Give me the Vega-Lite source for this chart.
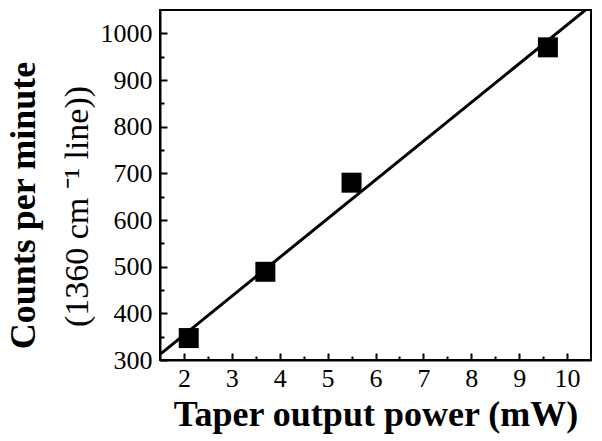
{
  "$schema": "https://vega.github.io/schema/vega-lite/v6.json",
  "autosize": "none",
  "padding": {"left": 160, "top": 10, "right": 11, "bottom": 81},
  "width": 431,
  "height": 350,
  "background": "white",
  "config": {
    "view": {"stroke": "black", "strokeWidth": 2},
    "axis": {
      "font": "Liberation Serif",
      "labelFont": "Liberation Serif",
      "titleFont": "Liberation Serif",
      "labelColor": "black",
      "titleColor": "black",
      "domainColor": "black",
      "domainWidth": 2,
      "tickColor": "black",
      "tickWidth": 2,
      "grid": false
    }
  },
  "datasets": {
    "points": [
      {"power": 2.1, "counts": 347},
      {"power": 3.7, "counts": 489},
      {"power": 5.5, "counts": 680},
      {"power": 9.6, "counts": 970}
    ],
    "fit": [
      {"power": 1.4, "counts": 303.8},
      {"power": 10.5, "counts": 1059.6}
    ]
  },
  "layer": [
    {
      "data": {"name": "fit"},
      "mark": {"type": "line", "color": "black", "strokeWidth": 3, "clip": true},
      "encoding": {
        "x": {
          "field": "power", "type": "quantitative",
          "scale": {"domain": [1.5, 10.5], "nice": false, "zero": false},
          "axis": {
            "orient": "bottom",
            "values": [2, 3, 4, 5, 6, 7, 8, 9, 10],
            "format": "d",
            "tickSize": -7,
            "labelPadding": 12,
            "labelFontSize": 26,
            "labelFlush": false,
            "title": "Taper output power (mW)",
            "titleFontSize": 36,
            "titleFontWeight": "bold",
            "titleBaseline": "alphabetic",
            "titleY": 65
          }
        },
        "y": {
          "field": "counts", "type": "quantitative",
          "scale": {"domain": [300, 1050], "nice": false, "zero": false},
          "axis": {
            "orient": "left",
            "values": [300, 400, 500, 600, 700, 800, 900, 1000],
            "format": "d",
            "tickSize": -7,
            "labelPadding": 15,
            "labelFontSize": 26,
            "labelFlush": false,
            "title": "(1360 cm ⁻¹ line))",
            "titleFontSize": 34,
            "titleFontWeight": "normal",
            "titleBaseline": "alphabetic",
            "titleX": -73,
            "titleY": 196
          }
        }
      }
    },
    {
      "data": {"name": "points"},
      "mark": {"type": "point", "shape": "square", "filled": true, "color": "black", "size": 400, "opacity": 1},
      "encoding": {
        "x": {
          "field": "power", "type": "quantitative",
          "scale": {"domain": [1.5, 10.5], "nice": false, "zero": false},
          "axis": {
            "orient": "bottom",
            "values": [2.5, 3.5, 4.5, 5.5, 6.5, 7.5, 8.5, 9.5],
            "tickSize": -4,
            "labels": false,
            "domain": false,
            "title": null
          }
        },
        "y": {
          "field": "counts", "type": "quantitative",
          "scale": {"domain": [300, 1050], "nice": false, "zero": false},
          "axis": {
            "orient": "left",
            "values": [350, 450, 550, 650, 750, 850, 950],
            "tickSize": -4,
            "labels": false,
            "domain": false,
            "title": "Counts per minute",
            "titleFontSize": 36,
            "titleFontWeight": "bold",
            "titleBaseline": "alphabetic",
            "titleX": -126,
            "titleY": 195
          }
        }
      }
    }
  ],
  "resolve": {"scale": {"x": "independent", "y": "independent"}}
}
